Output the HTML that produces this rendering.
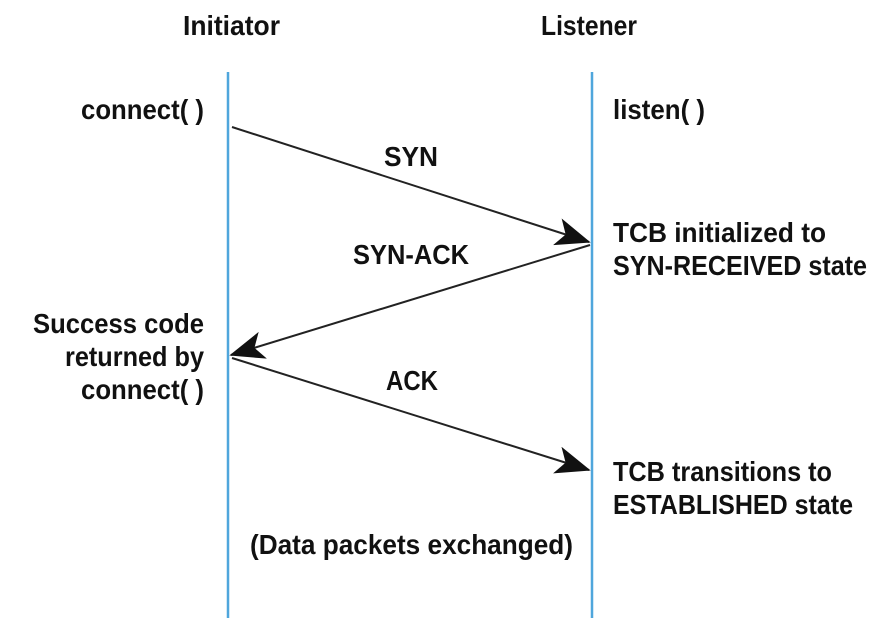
<!DOCTYPE html>
<html><head><meta charset="utf-8"><style>
html,body{margin:0;padding:0;background:#fff;}
svg{display:block}
text{font-family:"Liberation Sans",sans-serif;font-weight:bold;font-size:28px;fill:#111;}
</style></head><body>
<svg width="874" height="634" viewBox="0 0 874 634">
<defs>
<marker id="a" viewBox="0 0 20 16" refX="19" refY="8" markerWidth="36" markerHeight="28" markerUnits="userSpaceOnUse" orient="auto">
<path d="M0,0 L20,8 L0,16 L5,8 Z" fill="#111"/>
</marker>
</defs>
<line x1="228" y1="72" x2="228" y2="618" stroke="#4fa6dc" stroke-width="2.5"/>
<line x1="592" y1="72" x2="592" y2="618" stroke="#4fa6dc" stroke-width="2.5"/>
<line x1="232" y1="127" x2="589" y2="242" stroke="#222" stroke-width="2" marker-end="url(#a)"/>
<line x1="590" y1="245" x2="231" y2="355" stroke="#222" stroke-width="2" marker-end="url(#a)"/>
<line x1="232" y1="358" x2="589" y2="470" stroke="#222" stroke-width="2" marker-end="url(#a)"/>
<text x="183" y="35" textLength="97" lengthAdjust="spacingAndGlyphs">Initiator</text>
<text x="541" y="35" textLength="96" lengthAdjust="spacingAndGlyphs">Listener</text>
<text x="81" y="119" textLength="123" lengthAdjust="spacingAndGlyphs">connect( )</text>
<text x="613" y="119" textLength="92" lengthAdjust="spacingAndGlyphs">listen( )</text>
<text x="384" y="166" textLength="54" lengthAdjust="spacingAndGlyphs">SYN</text>
<text x="353" y="264" textLength="116" lengthAdjust="spacingAndGlyphs">SYN-ACK</text>
<text x="613" y="242" textLength="213" lengthAdjust="spacingAndGlyphs">TCB initialized to</text>
<text x="613" y="275" textLength="254" lengthAdjust="spacingAndGlyphs">SYN-RECEIVED state</text>
<text x="33" y="333" textLength="171" lengthAdjust="spacingAndGlyphs">Success code</text>
<text x="65" y="366" textLength="139" lengthAdjust="spacingAndGlyphs">returned by</text>
<text x="81" y="399" textLength="123" lengthAdjust="spacingAndGlyphs">connect( )</text>
<text x="386" y="390" textLength="52" lengthAdjust="spacingAndGlyphs">ACK</text>
<text x="613" y="481" textLength="219" lengthAdjust="spacingAndGlyphs">TCB transitions to</text>
<text x="613" y="514" textLength="240" lengthAdjust="spacingAndGlyphs">ESTABLISHED state</text>
<text x="250" y="554" textLength="323" lengthAdjust="spacingAndGlyphs">(Data packets exchanged)</text>
</svg>
</body></html>
